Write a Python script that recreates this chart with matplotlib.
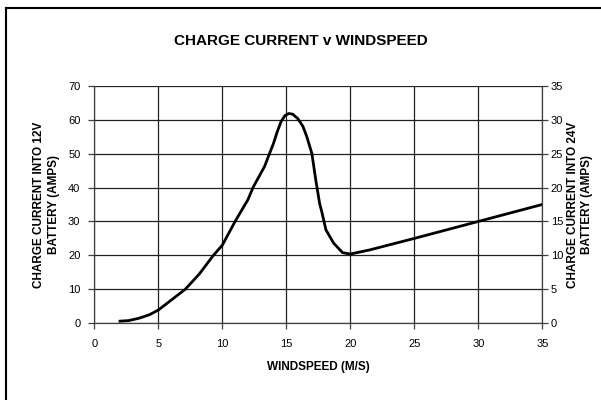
import matplotlib
matplotlib.use("Agg")
import matplotlib.pyplot as plt
from matplotlib.lines import Line2D

windspeed = [1.9, 2.7, 3.5, 4.3, 5.0, 6.0, 7.1, 8.2, 9.3, 10.0, 11.0, 12.0, 12.4, 13.3,
             14.0, 14.3, 14.6, 14.9, 15.2, 15.5, 15.9, 16.3, 16.6, 17.0, 17.3, 17.6,
             17.8, 18.1, 18.7, 19.4, 20.0, 21.5, 25.0, 30.0, 35.0]
current_12v = [0.6, 0.8, 1.5, 2.5, 3.9, 6.8, 10.0, 14.5, 20.0, 23.0, 30.0, 36.4, 40.0, 46.2,
               53.0, 56.5, 59.5, 61.2, 61.8, 61.6, 60.3, 58.0, 55.0, 50.0, 42.3, 35.4,
               32.4, 27.5, 23.6, 20.8, 20.4, 21.6, 25.0, 30.0, 35.0]
x_ticks = [0, 5, 10, 15, 20, 25, 30, 35]
y_left_ticks = [0, 10, 20, 30, 40, 50, 60, 70]
y_right_ticks = [0, 5, 10, 15, 20, 25, 30, 35]

plt.rcParams['font.family'] = ['Liberation Sans', 'DejaVu Sans']

fig = plt.figure(figsize=(6.01, 4.0), dpi=100)
ax = fig.add_axes([0.1569, 0.1918, 0.7454, 0.5940])
ax.plot(windspeed, current_12v, color='black', lw=2.0, solid_joinstyle='round',
        solid_capstyle='butt', zorder=3)
ax.set_xlim(0, 35)
ax.set_ylim(0, 70)
ax.set_xticks(x_ticks)
ax.set_yticks(y_left_ticks)
ax.grid(True, color='#202020', lw=0.9)
for s in ['top', 'right']:
    ax.spines[s].set_visible(False)
for s in ['left', 'bottom']:
    ax.spines[s].set_color('#404040')
    ax.spines[s].set_linewidth(0.9)
ax.tick_params(axis='y', direction='out', length=4, width=0.9, color='#404040',
               labelsize=8, pad=6)
ax.tick_params(axis='x', direction='out', length=4, width=0.9, color='#404040',
               labelsize=8, pad=7)

ax2 = ax.twinx()
ax2.set_ylim(0, 35)
ax2.set_yticks(y_right_ticks)
for s in ['top', 'left', 'bottom']:
    ax2.spines[s].set_visible(False)
ax2.spines['right'].set_color('#404040')
ax2.spines['right'].set_linewidth(0.9)
ax2.tick_params(direction='out', length=4, width=0.9, color='#404040',
                labelsize=8, pad=2)

fig.text(0.5, 0.898, 'CHARGE CURRENT v WINDSPEED', ha='center', va='center',
         fontsize=11, fontweight='bold')
ax.set_xlabel('WINDSPEED (M/S)', fontsize=8.5, fontweight='bold', labelpad=9)
ax.set_ylabel('CHARGE CURRENT INTO 12V\nBATTERY (AMPS)', fontsize=8.5,
              fontweight='bold', labelpad=6, linespacing=1.25)
ax2.set_ylabel('CHARGE CURRENT INTO 24V\nBATTERY (AMPS)', fontsize=8.5,
               fontweight='bold', labelpad=3, linespacing=1.25, rotation=90)

# outer frame (top and left edges visible)
fig.add_artist(Line2D([6 / 601, 1.0], [1 - 7.5 / 400, 1 - 7.5 / 400],
                      transform=fig.transFigure, color='black', lw=1.5))
fig.add_artist(Line2D([6 / 601, 6 / 601], [0.0, 1 - 7.5 / 400],
                      transform=fig.transFigure, color='black', lw=1.5))

fig.savefig('out.png', dpi=100)
